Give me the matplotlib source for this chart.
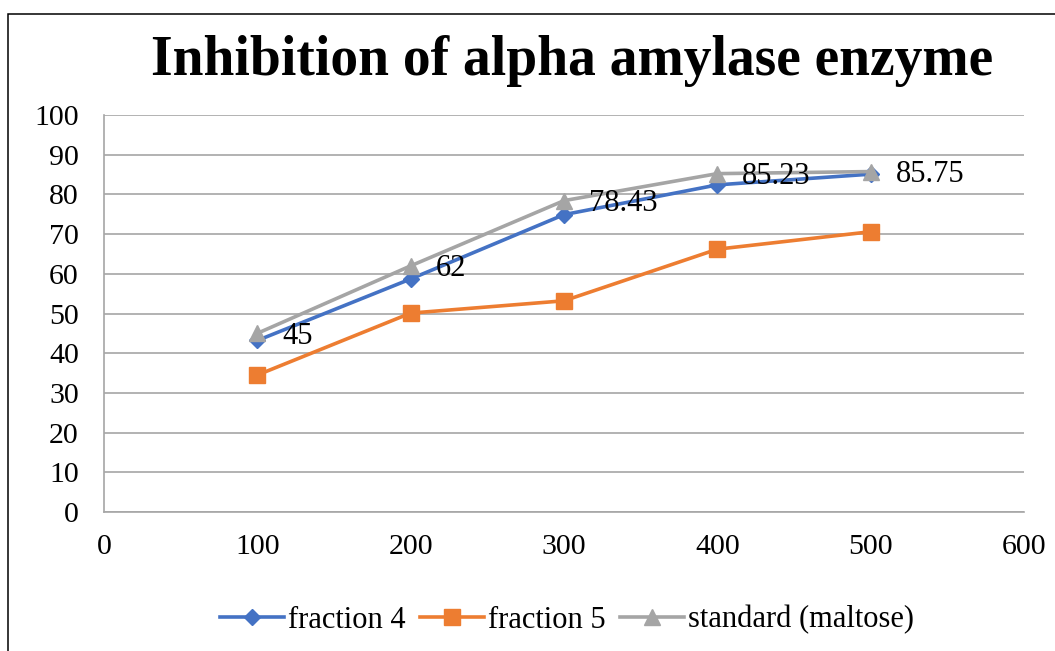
import matplotlib.pyplot as plt
from matplotlib.patches import Rectangle

conc = [100, 200, 300, 400, 500]
fraction4 = [43.2, 58.7, 74.9, 82.4, 85.1]
fraction5 = [34.5, 50.1, 53.2, 66.2, 70.6]
standard = [45, 62, 78.43, 85.23, 85.75]
std_labels = ["45", "62", "78.43", "85.23", "85.75"]

plt.rcParams['font.family'] = ['Liberation Serif', 'DejaVu Serif']

fig = plt.figure(figsize=(10.55, 6.51), dpi=100)
ax = fig.add_axes([104/1055, 1-512/651, 920/1055, 397/651])

# outer chart frame (only left and top edges fall inside the picture)
fig.patches.append(Rectangle((8/1055, -0.1), 1.2, 1-14/651+0.1,
                             transform=fig.transFigure, fill=False,
                             edgecolor='black', lw=1.1))

ax.plot(conc, fraction4, color='#4472C4', lw=2.6, marker='D', ms=8,
        label='fraction 4', zorder=3)
ax.plot(conc, fraction5, color='#ED7D31', lw=2.6, marker='s', ms=12,
        label='fraction 5', zorder=3)
ax.plot(conc, standard, color='#A5A5A5', lw=2.6, marker='^', ms=12,
        label='standard (maltose)', zorder=4)

for x, y, t in zip(conc, standard, std_labels):
    ax.annotate(t, (x, y), xytext=(18, -2), textcoords='offset points',
                ha='left', va='center', fontsize=22, zorder=5)

ax.set_xlim(0, 600)
ax.set_ylim(0, 100)
ax.set_xticks(range(0, 601, 100))
ax.set_yticks(range(0, 101, 10))
ax.yaxis.grid(True, color='#A6A6A6', lw=1.2)
ax.set_axisbelow(True)
ax.tick_params(length=0, labelsize=21.5, pad=16)
ax.tick_params(axis='y', pad=18)
for s in ['top', 'right']:
    ax.spines[s].set_visible(False)
for s in ['left', 'bottom']:
    ax.spines[s].set_color('#A6A6A6')
    ax.spines[s].set_linewidth(1.2)

fig.text(572/1055, 1-61/651, 'Inhibition of alpha amylase enzyme',
         ha='center', va='center', fontsize=40, fontweight='bold')

fig.legend(loc='center', bbox_to_anchor=(567/1055, 1-620/651), ncol=3,
           frameon=False, fontsize=22, handlelength=2.1, handletextpad=0.15,
           columnspacing=0.45)

fig.savefig('out.png', dpi=100)
